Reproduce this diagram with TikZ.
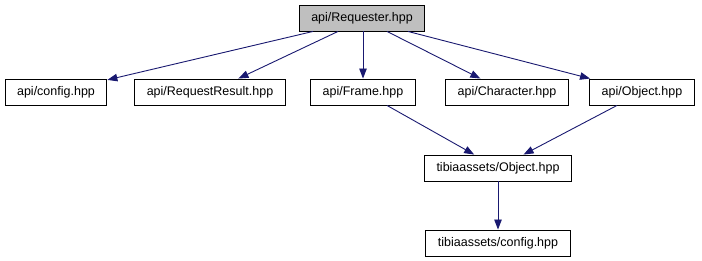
\documentclass[tikz,border=0pt]{standalone}
\usepackage{fontspec}
\setmainfont{Liberation Sans}
\usetikzlibrary{arrows.meta}

\definecolor{edgeblue}{HTML}{191970}

\begin{document}
\begin{tikzpicture}[
        x = 1pt, y = -1pt,
        font = \fontsize{12.5}{15}\selectfont,
        file/.style = {draw=black, line width=0.9pt, fill=white, minimum height=26pt, inner xsep=12pt, inner ysep=0pt},
        dep/.style = {draw=edgeblue, line width=0.9pt, -{Triangle[length=10pt,width=7.5pt]}}
    ]

    \useasboundingbox (0,0) rectangle (702,261);

    % header being documented
    \node[file, fill=black!25] (req) at (362,18) {api/Requester.hpp};

    % direct includes
    \node[file] (cfg)    at (56,92)  {api/config.hpp};
    \node[file] (result) at (210,92) {api/RequestResult.hpp};
    \node[file] (frame)  at (363,92) {api/Frame.hpp};
    \node[file] (chr)    at (507,92) {api/Character.hpp};
    \node[file] (obj)    at (642,92) {api/Object.hpp};

    % pulled in from tibiaassets
    \node[file] (tobj) at (498,168) {tibiaassets/Object.hpp};
    \node[file] (tcfg) at (498,243) {tibiaassets/config.hpp};

    \draw[dep] ([xshift=-49pt]req.south) -- (cfg);
    \draw[dep] ([xshift=-24pt]req.south) -- (result);
    \draw[dep] (req.south -| frame.north) -- (frame);
    \draw[dep] ([xshift=25pt]req.south) -- (chr);
    \draw[dep] ([xshift=46pt]req.south) -- (obj);

    \draw[dep] ([xshift=24pt]frame.south) -- (tobj);
    \draw[dep] ([xshift=-25pt]obj.south) -- (tobj);
    \draw[dep] (tobj) -- (tcfg);

\end{tikzpicture}
\end{document}
